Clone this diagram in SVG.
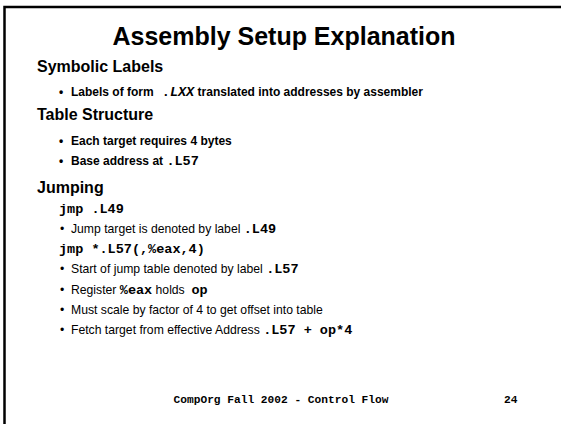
<svg xmlns="http://www.w3.org/2000/svg" width="561" height="424" viewBox="0 0 561 424">
  <style>
    text { white-space: pre; fill: #000; }
    .title { font: bold 25px "Liberation Sans", Arial, sans-serif; }
    .head { font: bold 16px "Liberation Sans", Arial, sans-serif; }
    .b1 { font: bold 12px "Liberation Sans", Arial, sans-serif; }
    .b2 { font: 12.2px "Liberation Sans", Arial, sans-serif; }
    .code { font-family: "Liberation Mono", "Courier New", monospace; font-weight: bold; font-size: 13.5px; }
    .codeline { font: bold 13.5px "Liberation Mono", "Courier New", monospace; }
    .foot { font: bold 11.2px "Liberation Mono", "Courier New", monospace; }
    .frame { fill: none; stroke: #000; stroke-width: 2.5; }
  </style>
  <rect width="561" height="424" fill="#fff"/>
  <!-- slide border: top and left edges -->
  <path class="frame" d="M4.5,430 V7 H570"/>

  <g id="title">
    <text class="title" x="284" y="45" text-anchor="middle">Assembly Setup Explanation</text>
  </g>

  <g id="symbolic-labels">
    <text class="head" x="37" y="72">Symbolic Labels</text>
    <text class="b1" x="59" y="96">•</text>
    <text class="b1" x="71" y="96">Labels of form<tspan class="code"> .</tspan><tspan class="code" font-style="italic">LXX</tspan> translated into addresses by assembler</text>
  </g>

  <g id="table-structure">
    <text class="head" x="37" y="120">Table Structure</text>
    <text class="b1" x="59" y="145">•</text>
    <text class="b1" x="71" y="145">Each target requires 4 bytes</text>
    <text class="b1" x="59" y="165">•</text>
    <text class="b1" x="71" y="165">Base address at <tspan class="code">.L57</tspan></text>
  </g>

  <g id="jumping">
    <text class="head" x="37" y="193">Jumping</text>
    <text class="codeline" x="59" y="213">jmp .L49</text>
    <text class="b2" x="60" y="233">•</text>
    <text class="b2" x="71" y="233">Jump target is denoted by label <tspan class="code">.L49</tspan></text>
    <text class="codeline" x="59" y="253">jmp *.L57(,%eax,4)</text>
    <text class="b2" x="60" y="273">•</text>
    <text class="b2" x="71" y="273">Start of jump table denoted by label <tspan class="code">.L57</tspan></text>
    <text class="b2" x="60" y="294">•</text>
    <text class="b2" x="71" y="294">Register <tspan class="code" font-size="12">%eax</tspan> holds  <tspan class="code">op</tspan></text>
    <text class="b2" x="60" y="314">•</text>
    <text class="b2" x="71" y="314">Must scale by factor of 4 to get offset into table</text>
    <text class="b2" x="60" y="334">•</text>
    <text class="b2" x="71" y="334">Fetch target from effective Address <tspan class="code">.L57 + op*4</tspan></text>
  </g>

  <g id="footer">
    <text class="foot" x="281" y="403" text-anchor="middle">CompOrg Fall 2002 - Control Flow</text>
    <text class="foot" x="504" y="403">24</text>
  </g>
</svg>
